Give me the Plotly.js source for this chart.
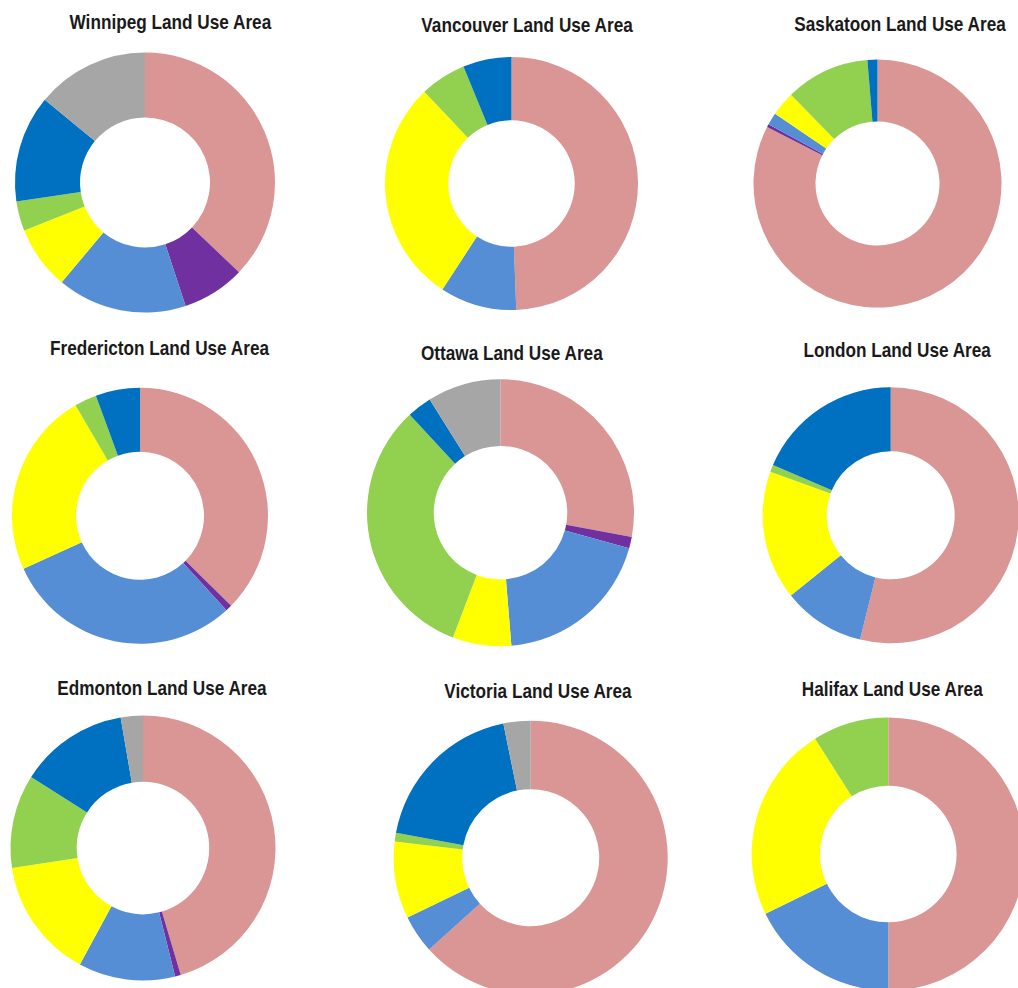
<!DOCTYPE html>
<html>
<head>
<meta charset="utf-8">
<script src="https://cdn.plot.ly/plotly-3.0.1.min.js"></script>
<style>
  html, body { margin: 0; padding: 0; background: #ffffff; overflow: hidden; }
  #chart { width: 1030px; height: 1010px; }
</style>
</head>
<body>
<div id="chart"></div>
<script>
// Land use categories (clockwise from 12 o'clock, matching colour order)
const categories = ["Category 1", "Category 2", "Category 3", "Category 4", "Category 5", "Category 6", "Category 7"];
const sliceColors = ["#D99694", "#7030A0", "#558ED5", "#FFFF00", "#92D050", "#0070C0", "#A6A6A6"];

// City names (titles)
const cities = ["Winnipeg", "Vancouver", "Saskatoon", "Fredericton", "Ottawa", "London", "Edmonton", "Victoria", "Halifax"];

// Share of land area (%) per category, per city
const winnipeg    = [37.1, 7.8, 16.1, 7.9, 3.7, 13.3, 14.0];
const vancouver   = [49.4, 0.0, 9.8, 28.7, 5.9, 6.2, 0.0];
const saskatoon   = [82.6, 0.4, 1.6, 3.2, 11.0, 1.3, 0.0];
const fredericton = [37.4, 0.8, 30.0, 23.4, 2.8, 5.6, 0.0];
const ottawa      = [27.9, 1.4, 19.4, 7.1, 32.3, 3.0, 8.9];
const london      = [53.9, 0.0, 10.4, 16.3, 0.9, 18.6, 0.0];
const edmonton    = [45.4, 0.7, 11.8, 14.7, 11.4, 13.3, 2.7];
const victoria    = [63.3, 0.0, 4.5, 9.1, 1.0, 18.9, 3.2];
const halifax     = [50.0, 0.0, 17.8, 23.2, 9.0, 0.0, 0.0];

const cityValues = [winnipeg, vancouver, saskatoon, fredericton, ottawa, london, edmonton, victoria, halifax];

// Layout geometry (pixels): donut centre, radius, and title position
const W = 1030, H = 1010;
const centers = [[145, 182.5], [511.5, 183.5], [877.5, 183.5],
                 [140, 515.8], [500.5, 512.7], [890.7, 515.3],
                 [143, 848], [530.7, 857.7], [888.3, 854]];
const radii = [130, 126.5, 124, 128, 133.5, 128, 132.5, 137, 136.6];
const titlePos = [[171, 22], [527, 25], [900, 24],
                  [160, 348], [512, 353], [897, 350],
                  [162, 688], [538, 691], [892, 689]];

const traces = cities.map((city, i) => {
  const [cx, cy] = centers[i];
  const r = radii[i];
  return {
    type: "pie",
    labels: categories,
    values: cityValues[i],
    name: city,
    hole: 0.5,
    sort: false,
    direction: "clockwise",
    rotation: 0,
    textinfo: "none",
    hoverinfo: "label+percent",
    showlegend: false,
    marker: { colors: sliceColors, line: { width: 0 } },
    domain: {
      x: [(cx - r) / W, (cx + r) / W],
      y: [1 - (cy + r) / H, 1 - (cy - r) / H]
    }
  };
});

const annotations = cities.map((city, i) => ({
  text: "<b>" + city + " Land Use Area</b>",
  x: titlePos[i][0] / W,
  y: 1 - titlePos[i][1] / H,
  xref: "paper", yref: "paper",
  xanchor: "center", yanchor: "middle",
  showarrow: false,
  font: { family: "'Liberation Sans', Arial, sans-serif", size: 20, color: "#1a1a1a" }
}));

const layout = {
  width: W, height: H,
  margin: { l: 0, r: 0, t: 0, b: 0 },
  paper_bgcolor: "#ffffff",
  plot_bgcolor: "#ffffff",
  showlegend: false,
  annotations: annotations
};

Plotly.newPlot("chart", traces, layout, { displayModeBar: false, staticPlot: true }).then(() => {
  // Condense title text horizontally to mimic a narrow bold face
  document.querySelectorAll("#chart text.annotation-text").forEach(t => {
    const bb = t.getBBox();
    const cx = bb.x + bb.width / 2;
    t.setAttribute("transform", `translate(${cx},0) scale(0.86,1) translate(${-cx},0)`);
  });
});
</script>
</body>
</html>
